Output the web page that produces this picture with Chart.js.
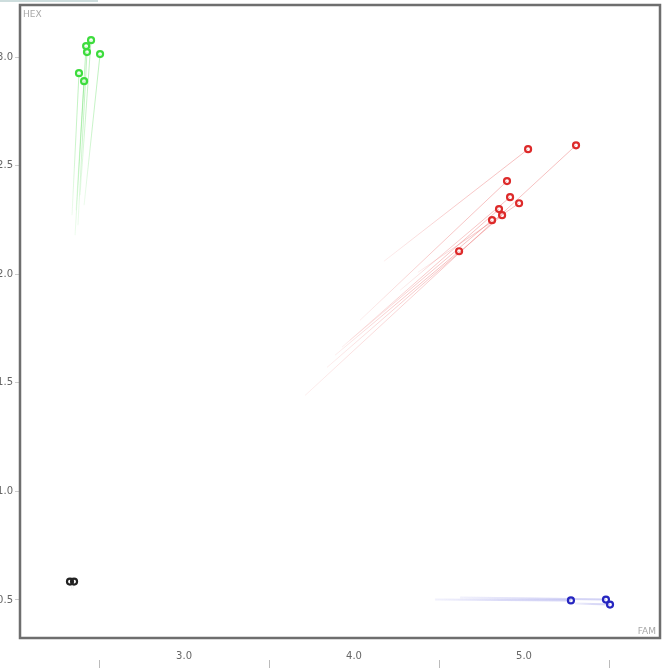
<!DOCTYPE html>
<html>
<head>
<meta charset="utf-8">
<script src="https://cdn.jsdelivr.net/npm/chart.js@4/dist/chart.umd.min.js"></script>
<style>
  html, body { margin: 0; padding: 0; background: #fff; overflow: hidden; }
  #strip { position: absolute; left: 0; top: 0; width: 98px; height: 2px; background: #cddddd; z-index: 2; }
  #wrap { position: absolute; left: -8px; top: -3px; width: 670px; height: 672px; }
</style>
</head>
<body>
<div id="strip"></div>
<div id="wrap"><canvas id="myChart"></canvas></div>
<script>
// axis ticks
var famTicks = [3.0, 4.0, 5.0];
var famMinorTicks = [2.5, 3.5, 4.5, 5.5];
var hexTicks = [0.5, 1.0, 1.5, 2.0, 2.5, 3.0];

// current positions (FAM, HEX) and where each trail starts
var greenFam = [2.453, 2.424, 2.429, 2.506, 2.382, 2.412];
var greenHex = [3.078, 3.051, 3.023, 3.014, 2.926, 2.889];
var greenFamFrom = [2.388, 2.365, 2.376, 2.412, 2.341, 2.359];
var greenHexFrom = [2.364, 2.295, 2.226, 2.318, 2.272, 2.180];

var redFam = [5.024, 5.306, 4.900, 4.918, 4.971, 4.853, 4.871, 4.812, 4.618];
var redHex = [2.576, 2.594, 2.429, 2.355, 2.327, 2.300, 2.272, 2.249, 2.106];
var redFamFrom = [4.176, 3.712, 4.035, 4.271, 4.376, 3.929, 3.841, 3.976, 3.888];
var redHexFrom = [2.060, 1.442, 1.788, 1.926, 2.009, 1.664, 1.571, 1.696, 1.627];

var blueFam = [5.276, 5.482, 5.506];
var blueHex = [0.498, 0.502, 0.479];
var blueFamFrom = [4.476, 4.624, 5.300];
var blueHexFrom = [0.502, 0.512, 0.484];

var blackFam = [2.329, 2.353];
var blackHex = [0.585, 0.585];
var blackFamFrom = [2.341, 2.347];
var blackHexFrom = [0.548, 0.552];

var groups = [
  {fam: greenFam, hex: greenHex, famFrom: greenFamFrom, hexFrom: greenHexFrom, color: '#3ddc3d', trail: [110, 225, 110], alpha: 0.45, width: 1},
  {fam: redFam, hex: redHex, famFrom: redFamFrom, hexFrom: redHexFrom, color: '#dd2a2a', trail: [235, 110, 110], alpha: 0.45, width: 1},
  {fam: blueFam, hex: blueHex, famFrom: blueFamFrom, hexFrom: blueHexFrom, color: '#2626c0', trail: [140, 140, 230], alpha: 0.4, width: 2},
  {fam: blackFam, hex: blackHex, famFrom: blackFamFrom, hexFrom: blackHexFrom, color: '#222222', trail: [140, 140, 140], alpha: 0.15, width: 1}
];

var trailColor = function (rgb, alpha) {
  var c = 'rgba(' + rgb.join(',') + ',';
  return function (ctx) {
    var chart = ctx.chart;
    var d = ctx.dataset.data;
    if (!chart.chartArea || !d) return c + alpha + ')';
    var x0 = chart.scales.x.getPixelForValue(d[0].x), y0 = chart.scales.y.getPixelForValue(d[0].y);
    var x1 = chart.scales.x.getPixelForValue(d[1].x), y1 = chart.scales.y.getPixelForValue(d[1].y);
    var g = chart.ctx.createLinearGradient(x0, y0, x1, y1);
    g.addColorStop(0, c + '0.12)');
    g.addColorStop(0.5, c + (alpha * 0.8) + ')');
    g.addColorStop(1, c + alpha + ')');
    return g;
  };
};

var datasets = [];
groups.forEach(function (g) {
  for (var i = 0; i < g.fam.length; i++) {
    datasets.push({
      type: 'line',
      data: [{x: g.famFrom[i], y: g.hexFrom[i]}, {x: g.fam[i], y: g.hex[i]}],
      showLine: true,
      borderWidth: g.width,
      borderColor: trailColor(g.trail, g.alpha),
      pointRadius: 0,
      order: 1
    });
  }
  datasets.push({
    type: 'scatter',
    data: g.fam.map(function (v, i) { return {x: v, y: g.hex[i]}; }),
    pointRadius: 3,
    borderWidth: 2.2,
    borderColor: g.color,
    backgroundColor: 'rgba(255,255,255,0)',
    order: 0
  });
});

var boxPlugin = {
  id: 'box',
  afterDraw: function (chart) {
    var a = chart.chartArea, c = chart.ctx;
    c.save();
    c.strokeStyle = '#6e6e6e';
    c.lineWidth = 2.5;
    c.strokeRect(a.left, a.top, a.right - a.left, a.bottom - a.top);
    c.fillStyle = '#a8a8a8';
    c.font = '9px "DejaVu Sans"';
    c.textBaseline = 'top';
    c.textAlign = 'left';
    c.fillText('HEX', a.left + 3, a.top + 5);
    c.textAlign = 'right';
    c.textBaseline = 'bottom';
    c.fillText('FAM', a.right - 4, a.bottom - 2);
    c.restore();
  }
};

var tickFont = {family: 'DejaVu Sans', size: 10};

new Chart(document.getElementById('myChart').getContext('2d'), {
  type: 'scatter',
  data: {datasets: datasets},
  plugins: [boxPlugin],
  options: {
    responsive: true,
    maintainAspectRatio: false,
    animation: false,
    layout: {autoPadding: false, padding: {top: 3, right: 2, left: 0, bottom: 0}},
    plugins: {legend: {display: false}, tooltip: {enabled: false}},
    scales: {
      x: {
        type: 'linear',
        min: 2.035, max: 5.8,
        afterBuildTicks: function (s) { s.ticks = famTicks.map(function (v) { return {value: v}; }); },
        afterFit: function (s) { s.height = 22; },
        grid: {display: false, drawTicks: false},
        border: {display: false},
        ticks: {padding: 12, color: '#666', font: tickFont, callback: function (v) { return v.toFixed(1); }}
      },
      x2: {
        type: 'linear',
        position: 'bottom',
        min: 2.035, max: 5.8,
        afterBuildTicks: function (s) { s.ticks = famMinorTicks.map(function (v) { return {value: v}; }); },
        afterFit: function (s) { s.height = 9; },
        grid: {drawOnChartArea: false, tickLength: 8, color: '#bbb'},
        border: {display: false},
        ticks: {display: false}
      },
      y: {
        type: 'linear',
        min: 0.325, max: 3.24,
        afterBuildTicks: function (s) { s.ticks = hexTicks.map(function (v) { return {value: v}; }); },
        afterFit: function (s) { s.width = 28; },
        grid: {drawOnChartArea: false, tickLength: 5, color: '#ccc'},
        border: {display: false},
        ticks: {padding: 2, color: '#666', font: tickFont, callback: function (v) { return v.toFixed(1); }}
      }
    }
  }
});
</script>
</body>
</html>
